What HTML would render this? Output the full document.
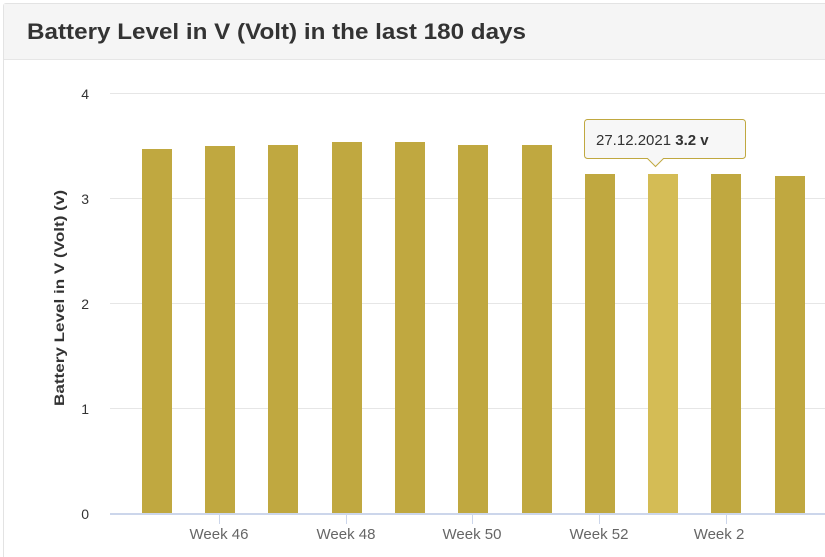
<!DOCTYPE html>
<html><head><style>
html,body{margin:0;padding:0;background:#fff;width:825px;height:557px;overflow:hidden}
.panel{position:absolute;left:3px;top:3px;width:821px;height:553px;border:1px solid #e3e3e3;border-right:none;border-bottom:none;border-radius:3px 0 0 0}
.hdr{position:absolute;left:0;top:0;right:0;height:55px;background:#f5f5f5;border-bottom:1px solid #e6e6e6}
svg{position:absolute;left:0;top:0}
</style></head><body>
<div class="panel"><div class="hdr"></div></div>
<svg width="825" height="557" font-family="Liberation Sans, sans-serif">
<text x="27" y="39" font-size="22" font-weight="bold" fill="#333" textLength="499" lengthAdjust="spacingAndGlyphs">Battery Level in V (Volt) in the last 180 days</text>
<g stroke="#e6e6e6" stroke-width="1">
<line x1="110" y1="93.5" x2="825" y2="93.5"/>
<line x1="110" y1="198.5" x2="825" y2="198.5"/>
<line x1="110" y1="303.5" x2="825" y2="303.5"/>
<line x1="110" y1="408.5" x2="825" y2="408.5"/>
</g>
<g font-size="14" fill="#333" text-anchor="end">
<text x="89" y="99">4</text><text x="89" y="204">3</text><text x="89" y="309">2</text><text x="89" y="414">1</text><text x="89" y="519">0</text>
</g>
<text transform="translate(64,298) rotate(-90)" text-anchor="middle" font-size="14" font-weight="bold" fill="#333" textLength="216" lengthAdjust="spacingAndGlyphs">Battery Level in V (Volt) (v)</text>
<g fill="#c0a840">
<rect x="142" y="149" width="30" height="365"/>
<rect x="205" y="146" width="30" height="368"/>
<rect x="268" y="145" width="30" height="369"/>
<rect x="332" y="142" width="30" height="372"/>
<rect x="395" y="142" width="30" height="372"/>
<rect x="458" y="145" width="30" height="369"/>
<rect x="522" y="145" width="30" height="369"/>
<rect x="585" y="174" width="30" height="340"/>
<rect x="648" y="174" width="30" height="340" fill="#d4bc55"/>
<rect x="711" y="174" width="30" height="340"/>
<rect x="775" y="176" width="30" height="338"/>
</g>
<line x1="110" y1="514" x2="825" y2="514" stroke="#ccd6eb" stroke-width="2"/>
<g stroke="#ccd6eb"><line x1="219.5" y1="514" x2="219.5" y2="524"/><line x1="346.5" y1="514" x2="346.5" y2="524"/><line x1="472.5" y1="514" x2="472.5" y2="524"/><line x1="599.5" y1="514" x2="599.5" y2="524"/><line x1="726.5" y1="514" x2="726.5" y2="524"/></g>
<g font-size="15" fill="#666" text-anchor="middle">
<text x="219" y="539">Week 46</text><text x="346" y="539">Week 48</text><text x="472" y="539">Week 50</text><text x="599" y="539">Week 52</text><text x="719" y="539">Week 2</text>
</g>
<path d="M587.5,119.5 h155 a3,3 0 0 1 3,3 v33 a3,3 0 0 1 -3,3 h-79 l-8,8 l-8,-8 h-60 a3,3 0 0 1 -3,-3 v-33 a3,3 0 0 1 3,-3z" fill="#f7f7f7" stroke="#c0a840" stroke-width="1"/>
<text x="596" y="145" font-size="15" fill="#333">27.12.2021 <tspan font-weight="bold">3.2 v</tspan></text>
</svg>
</body></html>
